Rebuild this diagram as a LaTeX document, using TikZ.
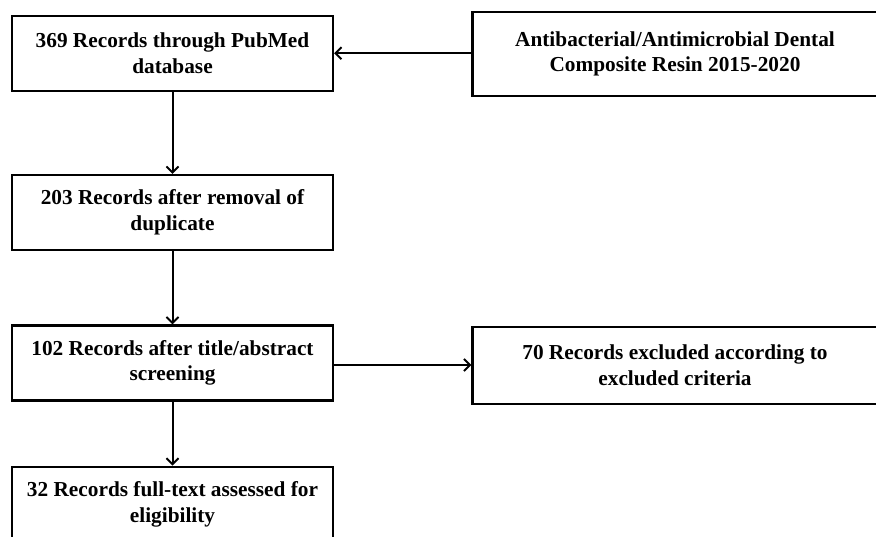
\documentclass[tikz,border=0pt]{standalone}
\usepackage{fontspec}
\setmainfont{Liberation Serif}
\usetikzlibrary{arrows.meta}
\begin{document}
\begin{tikzpicture}[x=1pt,y=1pt,
  box/.style={draw=black, line width=2.2pt, rectangle, align=center, inner sep=0pt,
    font=\fontsize{21.3}{25.5}\selectfont\bfseries},
  conn/.style={draw=black, line width=2pt, -{Straight Barb[length=6pt,width=12pt,line width=2pt]}}]
\useasboundingbox (0,0) rectangle (876,-536);
\node[box, minimum width=321pt, minimum height=75pt] (b1) at (172.5,-53.2) {369 Records through PubMed\\database};
\node[box, minimum width=321pt, minimum height=75pt] (b2) at (172.5,-212.5) {203 Records after removal of\\duplicate};
\node[box, minimum width=321pt, minimum height=75pt] (b3) at (172.5,-363) {102 Records after title/abstract\\screening};
\node[box, minimum width=321pt, minimum height=75pt] (b4) at (172.5,-504.2) {32 Records full-text assessed for\\eligibility};
\node[box, minimum width=405pt, minimum height=83.4pt] (r1) at (675,-54) {Antibacterial/Antimicrobial Dental\\Composite Resin 2015-2020};
\node[box, minimum width=405pt, minimum height=77pt] (r3) at (675,-365.3) {70 Records excluded according to\\excluded criteria};
\draw[conn] (r1.west |- b1.east) -- (b1.east);
\draw[conn] (b1) -- (b2);
\draw[conn] (b2) -- (b3);
\draw[conn] (b3) -- (b4);
\draw[conn] (b3.east) ++(0,-2) coordinate (s3) -- (s3 -| r3.west);
\end{tikzpicture}
\end{document}
